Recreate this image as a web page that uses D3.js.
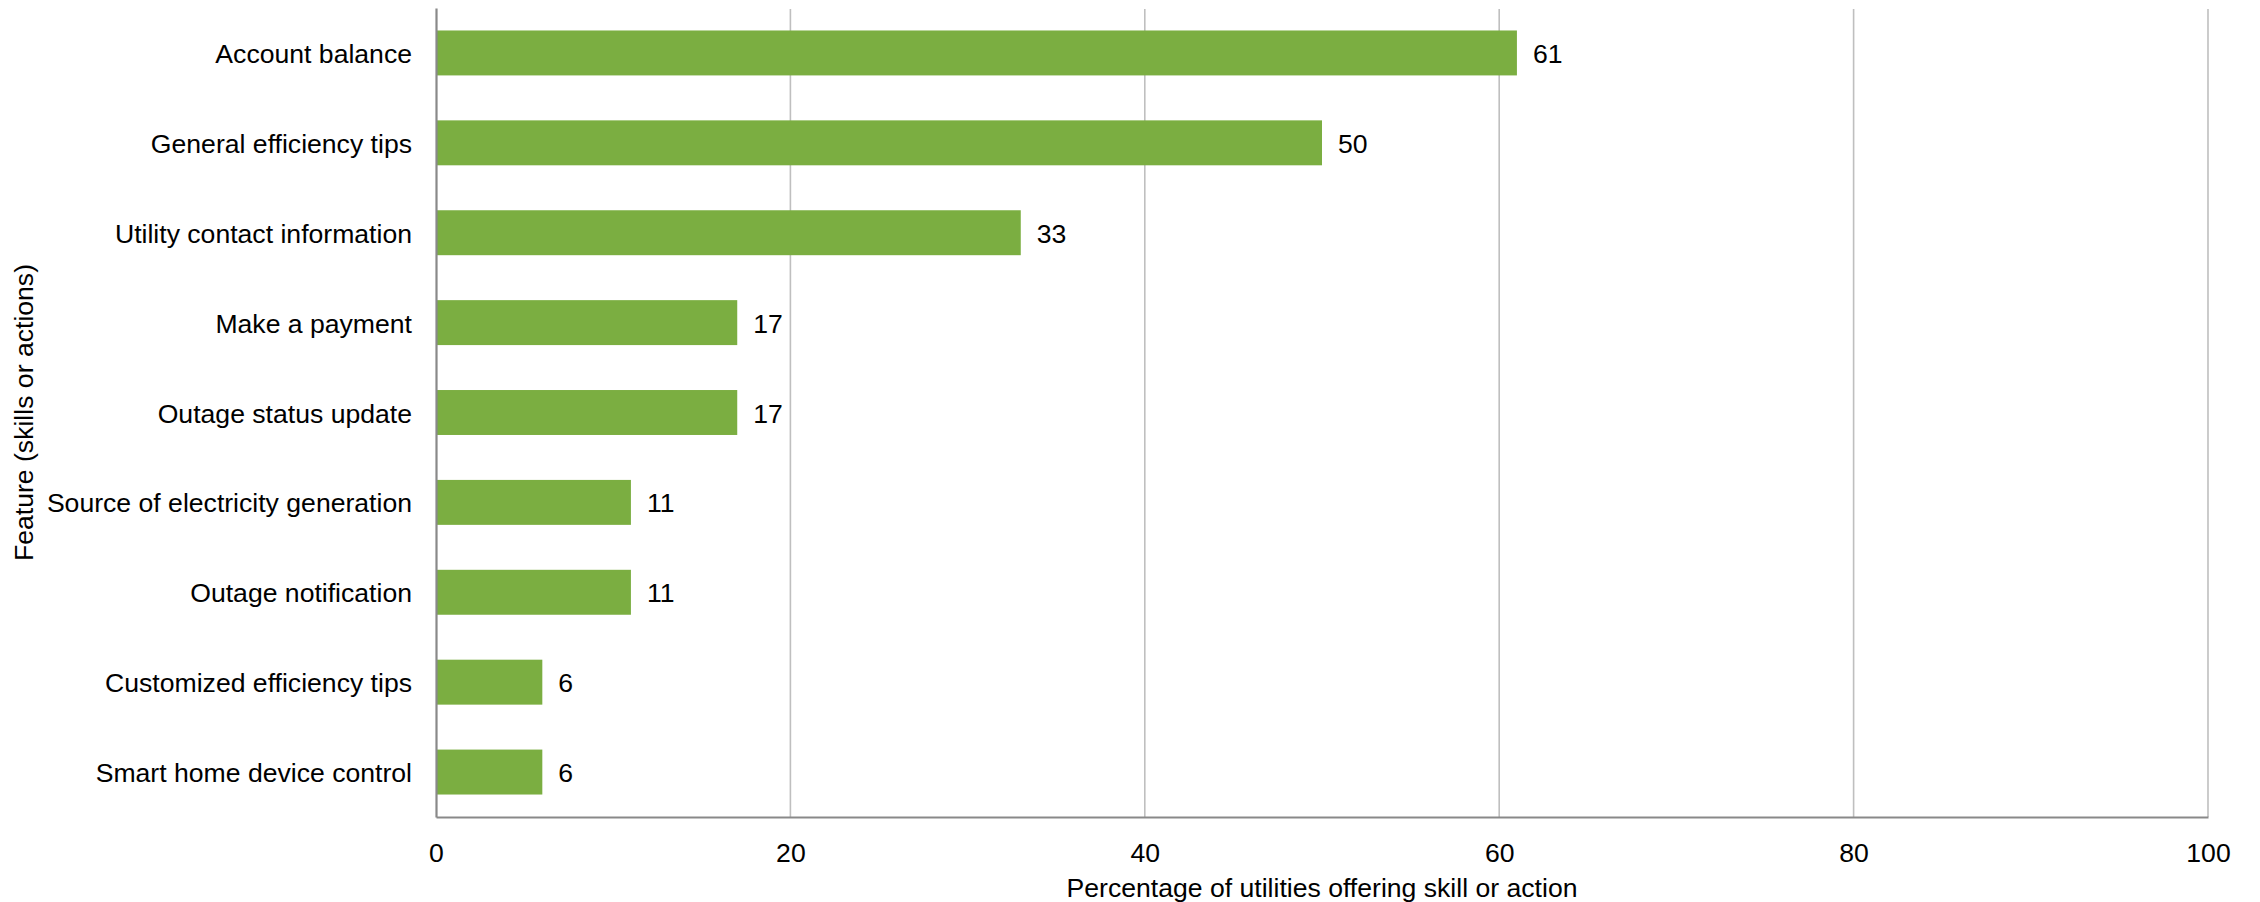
<!DOCTYPE html>
<html>
<head>
<meta charset="utf-8">
<script src="https://cdn.jsdelivr.net/npm/d3@7"></script>
<style>
  html, body { margin: 0; padding: 0; background: #ffffff; }
  svg { display: block; }
  text { font-family: "Liberation Sans", Arial, sans-serif; fill: #000; }
</style>
</head>
<body>
<script>
const categories = [
  "Account balance",
  "General efficiency tips",
  "Utility contact information",
  "Make a payment",
  "Outage status update",
  "Source of electricity generation",
  "Outage notification",
  "Customized efficiency tips",
  "Smart home device control"
];
const values = [61, 50, 33, 17, 17, 11, 11, 6, 6];
const xTicks = [0, 20, 40, 60, 80, 100];
const xTitle = "Percentage of utilities offering skill or action";
const yTitle = "Feature (skills or actions)";

const W = 2260, H = 902;
const FS = 26.6;
const margin = { left: 436, right: 52, top: 8, bottom: 85 };

const svg = d3.select("body").append("svg").attr("width", W).attr("height", H);

const x = d3.scaleLinear().domain([0, 100]).range([margin.left, W - margin.right]);
const y = d3.scaleBand().domain(categories).range([margin.top, H - margin.bottom]).paddingInner(0.5).paddingOuter(0.25);

// gridlines
svg.append("g").selectAll("line").data(xTicks.filter(d => d > 0)).join("line")
  .attr("x1", d => x(d)).attr("x2", d => x(d))
  .attr("y1", margin.top + 1).attr("y2", H - margin.bottom)
  .attr("stroke", "#bfbfbf").attr("stroke-width", 1.6);

// bars
svg.append("g").selectAll("rect").data(values).join("rect")
  .attr("x", x(0))
  .attr("y", (d, i) => y(categories[i]))
  .attr("width", d => x(d) - x(0))
  .attr("height", y.bandwidth())
  .attr("fill", "#7bae41");

// value labels
svg.append("g").selectAll("text").data(values).join("text")
  .attr("x", d => x(d) + 16)
  .attr("y", (d, i) => y(categories[i]) + y.bandwidth() / 2)
  .attr("dy", "0.38em")
  .attr("font-size", FS)
  .text(d => d);

// x axis
const xAxis = svg.append("g").attr("transform", `translate(0,${H - margin.bottom})`)
  .call(d3.axisBottom(x).tickValues(xTicks).tickSize(0).tickPadding(26));
xAxis.select(".domain").attr("stroke", "#898989").attr("stroke-width", 2.2);
xAxis.selectAll("text").attr("font-size", FS).attr("font-family", '"Liberation Sans", Arial, sans-serif').attr("fill", "#000");

// y axis
const yAxis = svg.append("g").attr("transform", `translate(${margin.left},0)`)
  .call(d3.axisLeft(y).tickSize(0).tickPadding(24));
yAxis.select(".domain").attr("stroke", "#898989").attr("stroke-width", 2.2);
yAxis.selectAll("text").attr("font-size", FS).attr("dy", "0.38em")
  .attr("font-family", '"Liberation Sans", Arial, sans-serif').attr("fill", "#000");

// titles
svg.append("text")
  .attr("x", (x(0) + x(100)) / 2).attr("y", 897)
  .attr("text-anchor", "middle").attr("font-size", FS)
  .text(xTitle);

svg.append("text")
  .attr("transform", `translate(33,${(margin.top + H - margin.bottom) / 2}) rotate(-90)`)
  .attr("text-anchor", "middle").attr("font-size", FS)
  .text(yTitle);
</script>
</body>
</html>
